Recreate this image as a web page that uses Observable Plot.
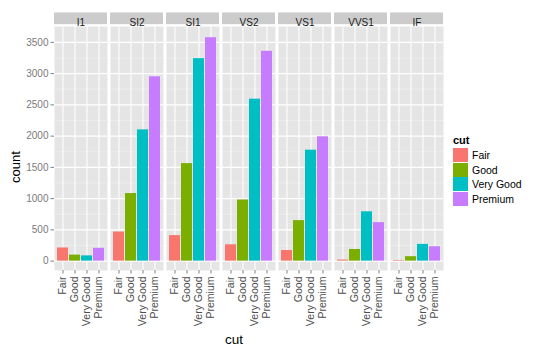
<!DOCTYPE html>
<html><head><meta charset="utf-8">
<script src="https://cdn.jsdelivr.net/npm/d3@7"></script>
<script src="https://cdn.jsdelivr.net/npm/@observablehq/plot@0.6"></script>
<style>
body{margin:0;background:#fff;font-family:"Liberation Sans",Arial,sans-serif;}
#wrap{position:relative;width:540px;height:354px;overflow:hidden;}
#wrap svg{position:absolute;left:0;top:0;}
.lab{position:absolute;color:#000;white-space:nowrap;line-height:1;}
</style></head><body><div id="wrap"></div>
<script>
const clarities = ["I1","SI2","SI1","VS2","VS1","VVS1","IF"];
const cuts = ["Fair","Good","Very Good","Premium"];
const colors = ["#F8766D","#7CAE00","#00BFC4","#C77CFF"];
const fair = [210,466,408,261,170,17,9];
const good = [96,1081,1560,978,648,186,71];
const veryGood = [84,2100,3240,2591,1775,789,268];
const premium = [205,2949,3575,3357,1989,616,230];
const yTicks = [0,500,1000,1500,2000,2500,3000,3500];
const yMinor = [250,750,1250,1750,2250,2750,3250,3750];

const series = [fair, good, veryGood, premium];
const data = clarities.flatMap((c,i)=> cuts.map((k,j)=>({clarity:c, cut:k, count: series[j][i]})));

const font = '"Liberation Sans", Arial, sans-serif';
const plot = Plot.plot({
  width:540, height:354, marginLeft:53, marginRight:96, marginTop:26, marginBottom:84,
  style:{fontFamily:font, background:"white"},
  fx:{domain:clarities, paddingInner:0.053, paddingOuter:0, axis:null, label:null},
  x:{domain:cuts, paddingInner:0.1, paddingOuter:0.15, axis:null, label:null},
  y:{domain:[-150,3753.75], axis:null, label:null},
  color:{domain:cuts, range:colors},
  marks:[
    Plot.frame({fill:"#E5E5E5", stroke:null}),
    Plot.ruleY(yMinor, {stroke:"#F2F2F2", strokeWidth:0.6}),
    Plot.ruleY(yTicks, {stroke:"white", strokeWidth:1.1}),
    Plot.gridX({stroke:"white", strokeOpacity:1, strokeWidth:1.1}),
    Plot.barY(data, {fx:"clarity", x:"cut", y:"count", fill:"cut"}),
    Plot.rect(clarities, {fx:d=>d, y1:3783, y2:3970, fill:"#CCCCCC"}),
    Plot.text(clarities, {fx:d=>d, text:d=>d, frameAnchor:"top", dy:-7.6, fontSize:10, fill:"#1a1a1a"}),
    Plot.axisY({ticks:yTicks, tickFormat:d=>String(d), tickSize:3.5, tickPadding:2.5, fontSize:10, fill:"#7a7a7a", stroke:"#7f7f7f", label:null}),
    Plot.axisX({tickRotate:-90, tickSize:3.5, tickPadding:2.5, fontSize:10.5, fill:"#4d4d4d", stroke:"#7f7f7f", label:null})
  ]
});
const wrap = document.getElementById("wrap");
wrap.appendChild(plot);

function addLabel(text, css){
  const d = document.createElement("div");
  d.className = "lab"; d.textContent = text;
  Object.assign(d.style, css);
  wrap.appendChild(d);
  return d;
}
// axis titles
addLabel("cut", {left:"234px", top:"340px", fontSize:"13.5px", transform:"translate(-50%,-50%)"});
addLabel("count", {left:"15px", top:"167px", fontSize:"13px", transform:"translate(-50%,-50%) rotate(-90deg)"});
// legend
addLabel("cut", {left:"453px", top:"135px", fontSize:"11px", fontWeight:"bold"});
cuts.forEach((k,i)=>{
  const y = 148 + i*14.6;
  const sw = document.createElement("div");
  Object.assign(sw.style, {position:"absolute", left:"453px", top:y+"px", width:"14.5px", height:"14px", background:colors[i]});
  wrap.appendChild(sw);
  addLabel(k, {left:"472px", top:(y+7)+"px", fontSize:"10.5px", transform:"translateY(-50%)"});
});
</script></body></html>
